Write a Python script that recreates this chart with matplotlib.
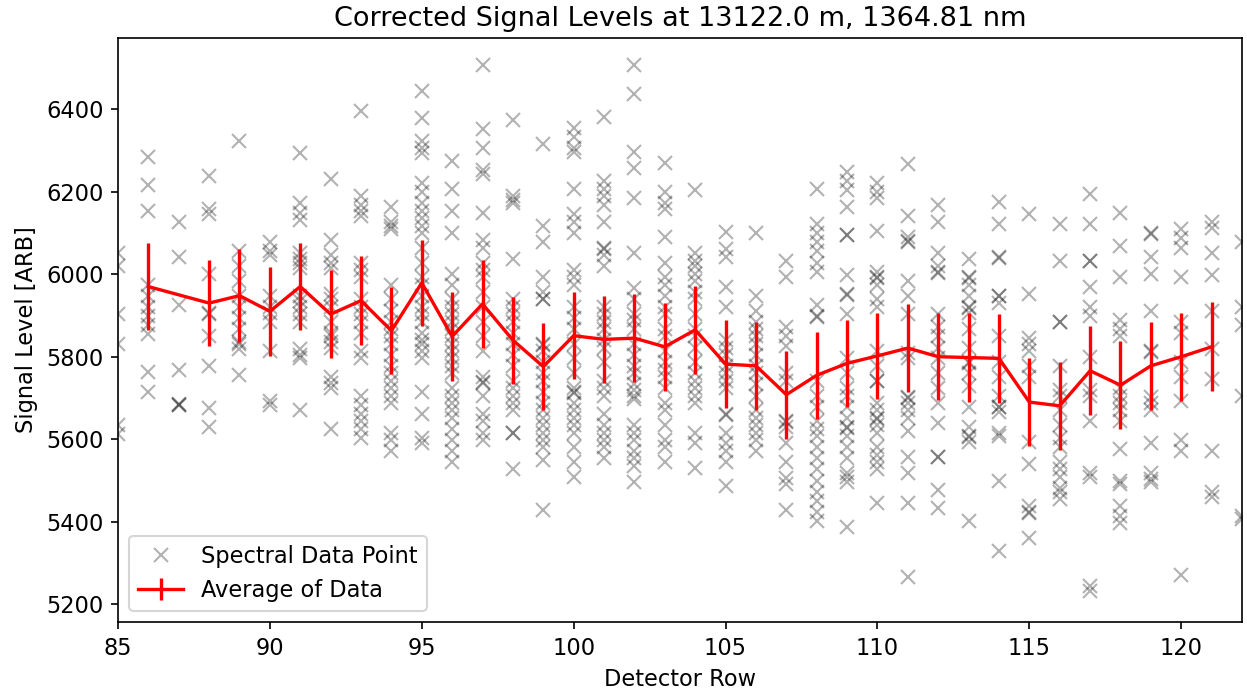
"""Corrected signal levels per detector row with row averages."""

import matplotlib
matplotlib.use("Agg")
import matplotlib.pyplot as plt

# detector rows that carry individual spectral points
detector_rows = list(range(85, 123))

# signal values read per detector row (85 .. 122)
signal_points = [
    [6051, 6019, 5903, 5831, 5634, 5612],
    [6284, 6216, 6154, 5975, 5948, 5921, 5899, 5876, 5854, 5764, 5715],
    [6127, 6042, 5925, 5769, 5684, 5682, 5686],
    [6239, 6158, 6145, 6000, 5903, 5905, 5849, 5778, 5675, 5630],
    [6324, 6055, 6019, 5984, 5948, 5921, 5894, 5867, 5836, 5831, 5818, 5755],
    [6078, 6055, 6046, 5948, 5921, 5907, 5885, 5813, 5693, 5684],
    [6293, 6172, 6149, 6131, 6051, 6037, 6028, 6015, 5948, 5934, 5921, 5903,
     5885, 5818, 5804, 5796, 5670],
    [6230, 6082, 6046, 6028, 6015, 5952, 5939, 5921, 5885, 5858, 5849, 5836,
     5822, 5751, 5737, 5724, 5625],
    [6396, 6190, 6167, 6154, 6140, 6028, 6010, 5993, 5939, 5921, 5903, 5885,
     5858, 5813, 5796, 5706, 5684, 5661, 5643, 5625, 5603],
    [6163, 6127, 6118, 6109, 5975, 5939, 5912, 5885, 5867, 5849, 5831, 5804,
     5778, 5760, 5742, 5724, 5706, 5688, 5616, 5599, 5572],
    [6445, 6378, 6324, 6306, 6293, 6221, 6199, 6172, 6154, 6136, 6118, 6100,
     6064, 6028, 5993, 5975, 5948, 5921, 5903, 5885, 5858, 5840, 5831, 5813,
     5796, 5715, 5661, 5603, 5590],
    [6275, 6207, 6154, 6100, 6001, 5975, 5939, 5921, 5903, 5885, 5867, 5849,
     5831, 5813, 5796, 5778, 5760, 5724, 5706, 5688, 5670, 5652, 5625, 5599,
     5572, 5545],
    [6507, 6351, 6306, 6252, 6243, 6149, 6082, 6064, 6028, 6010, 5993, 5957,
     5921, 5885, 5849, 5813, 5751, 5737, 5739, 5706, 5661, 5643, 5616, 5599],
    [6373, 6190, 6181, 6172, 6037, 5939, 5921, 5903, 5885, 5858, 5831, 5804,
     5778, 5742, 5724, 5706, 5688, 5670, 5616, 5614, 5527],
    [6315, 6118, 6078, 5993, 5957, 5939, 5941, 5831, 5829, 5813, 5787, 5760,
     5742, 5715, 5688, 5670, 5652, 5634, 5616, 5599, 5581, 5549, 5428],
    [6355, 6333, 6306, 6297, 6207, 6145, 6127, 6100, 6010, 5993, 5975, 5921,
     5894, 5867, 5831, 5796, 5760, 5724, 5715, 5713, 5688, 5670, 5652, 5634,
     5616, 5581, 5545, 5509],
    [6382, 6225, 6207, 6190, 6167, 6127, 6064, 6062, 6046, 6019, 5921, 5903,
     5885, 5867, 5840, 5822, 5787, 5742, 5724, 5706, 5661, 5634, 5616, 5599,
     5581, 5554],
    [6507, 6436, 6297, 6257, 6185, 6051, 5966, 5939, 5903, 5890, 5867, 5831,
     5804, 5778, 5760, 5733, 5719, 5706, 5697, 5634, 5616, 5599, 5572, 5554,
     5536, 5496],
    [6270, 6199, 6172, 6158, 6091, 6028, 5993, 5975, 5948, 5921, 5903, 5867,
     5849, 5813, 5787, 5769, 5751, 5724, 5688, 5670, 5634, 5599, 5581, 5545],
    [6203, 6051, 6033, 6019, 6001, 5984, 5957, 5939, 5903, 5867, 5849, 5822,
     5787, 5760, 5742, 5724, 5706, 5688, 5616, 5590, 5531],
    [6102, 6060, 6042, 5970, 5921, 5840, 5822, 5804, 5778, 5760, 5742, 5724,
     5661, 5659, 5616, 5590, 5572, 5545, 5487],
    [6100, 5948, 5912, 5885, 5867, 5849, 5831, 5804, 5778, 5760, 5733, 5706,
     5670, 5652, 5634, 5616, 5599, 5572],
    [6033, 5993, 5872, 5849, 5827, 5760, 5742, 5643, 5641, 5630, 5590, 5545,
     5505, 5491, 5428],
    [6207, 6122, 6100, 6078, 6055, 6028, 6006, 5925, 5899, 5897, 5742, 5706,
     5679, 5643, 5625, 5607, 5581, 5554, 5527, 5500, 5473, 5451, 5424, 5401],
    [6248, 6225, 6203, 6163, 6096, 6094, 5997, 5952, 5950, 5903, 5796, 5760,
     5724, 5706, 5679, 5652, 5630, 5628, 5607, 5581, 5554, 5518, 5509, 5496,
     5388],
    [6221, 6199, 6185, 6104, 6006, 5993, 5991, 5975, 5939, 5921, 5813, 5778,
     5742, 5740, 5688, 5670, 5652, 5650, 5634, 5616, 5581, 5563, 5545, 5527,
     5446],
    [6266, 6140, 6091, 6078, 6080, 5984, 5948, 5903, 5809, 5796, 5702, 5700,
     5688, 5670, 5652, 5621, 5558, 5518, 5446, 5267],
    [6167, 6127, 6051, 6019, 6006, 6004, 5903, 5872, 5849, 5822, 5796, 5760,
     5724, 5688, 5639, 5558, 5556, 5478, 5433],
    [6037, 5993, 5991, 5975, 5948, 5921, 5919, 5907, 5867, 5822, 5787, 5785,
     5760, 5728, 5679, 5630, 5607, 5605, 5594, 5401],
    [6176, 6122, 6042, 6040, 5948, 5946, 5930, 5849, 5787, 5751, 5706, 5679,
     5677, 5666, 5616, 5607, 5500, 5330],
    [6145, 5952, 5845, 5831, 5813, 5778, 5751, 5594, 5540, 5437, 5424, 5422,
     5361],
    [6122, 6033, 5885, 5883, 5778, 5719, 5706, 5670, 5634, 5603, 5581, 5545,
     5527, 5509, 5482, 5473, 5455],
    [6194, 6122, 6033, 6031, 5970, 5921, 5899, 5800, 5719, 5706, 5643, 5518,
     5509, 5245, 5231],
    [6149, 6069, 5993, 5890, 5867, 5849, 5724, 5706, 5688, 5670, 5643, 5576,
     5500, 5491, 5437, 5415, 5397],
    [6100, 6098, 6042, 6001, 5912, 5813, 5811, 5702, 5688, 5670, 5590, 5518,
     5504, 5496],
    [6109, 6087, 6064, 5993, 5885, 5858, 5787, 5751, 5693, 5599, 5572, 5272],
    [6127, 6113, 6051, 5997, 5912, 5818, 5746, 5572, 5473, 5460],
    [6078, 5921, 5876, 5706, 5406, 5415],
]

# row averages with their spread (row 87 has no average)
avg_rows = [86] + list(range(88, 122))
avg_signal = [5970, 5930, 5948, 5910, 5970, 5903, 5936, 5863, 5979, 5849,
              5928, 5840, 5776, 5851, 5842, 5845, 5824, 5865, 5782, 5778,
              5708, 5755, 5784, 5802, 5821, 5800, 5798, 5796, 5690, 5681,
              5766, 5731, 5778, 5800, 5824]
avg_err = [105, 105, 113, 108, 106, 106, 107, 106, 105, 107,
           107, 105, 105, 105, 106, 106, 106, 107, 107, 106,
           107, 105, 106, 105, 107, 105, 108, 107, 107, 107,
           108, 107, 106, 107, 108]


def main() -> None:
    plt.rcParams["font.size"] = 10.8
    plt.rcParams["axes.titlesize"] = 13
    fig = plt.figure(figsize=(1247 / 150, 694 / 150), dpi=150)
    ax = fig.add_axes([0.0946, 0.1037, 0.9014, 0.8413])

    xs = []
    ys = []
    for row, vals in zip(detector_rows, signal_points):
        xs.extend([row] * len(vals))
        ys.extend(vals)
    ax.plot(xs, ys, "x", color="k", alpha=0.3, markersize=6.5,
            label="Spectral Data Point")

    ax.errorbar(avg_rows, avg_signal, yerr=avg_err, color="red",
                linewidth=1.6, label="Average of Data")

    ax.set_xlim(85, 122)
    ax.set_ylim(5157, 6572)
    ax.set_xlabel("Detector Row")
    ax.set_ylabel("Signal Level [ARB]")
    ax.set_title("Corrected Signal Levels at 13122.0 m, 1364.81 nm")
    ax.legend(loc="lower left")

    fig.savefig("out.png", dpi=150)
    plt.close(fig)


if __name__ == "__main__":
    main()
